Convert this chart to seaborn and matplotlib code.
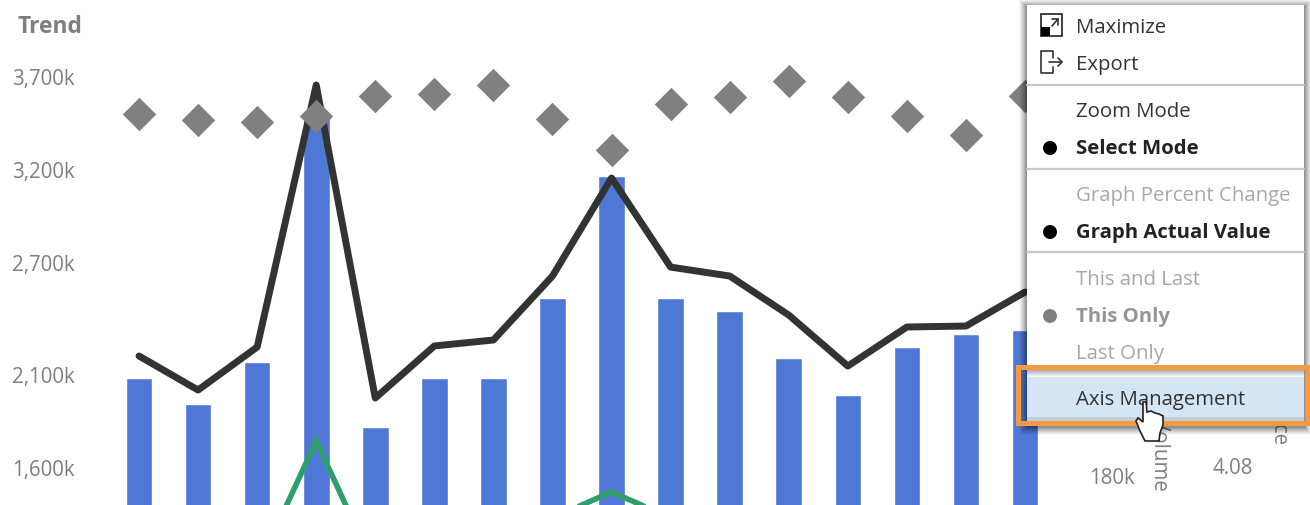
import matplotlib
matplotlib.use("Agg")
import matplotlib.pyplot as plt
from matplotlib.patches import Rectangle, Circle, Polygon
import pandas as pd
import seaborn as sns

periods = list(range(16))
bars = [2082, 1942, 2168, 3500, 1818, 2082, 2082, 2512, 3168, 2512, 2442, 2189, 1990, 2248, 2318, 2340]
line = [2200, 2017, 2248, 3657, 1974, 2254, 2286, 2630, 3157, 2678, 2630, 2420, 2146, 2356, 2361, 2544]
diamonds = [3500, 3468, 3457, 3489, 3597, 3608, 3656, 3473, 3306, 3553, 3591, 3677, 3591, 3489, 3387, 3597]
green = [1050, 1100, 1055, 1743, 1055, 1200, 1250, 1330, 1469, 1330, 1250, 1200, 1100, 1150, 1200, 1150]
yticks = [1600, 2100, 2700, 3200, 3700]
ytick_labels = ["1,600k", "2,100k", "2,700k", "3,200k", "3,700k"]
menu_items = [("Maximize", 28, "normal", "#333333"), ("Export", 65, "normal", "#333333"),
              ("Zoom Mode", 112, "normal", "#333333"), ("Select Mode", 149, "bold", "#222222"),
              ("Graph Percent Change", 196, "normal", "#a8a8a8"), ("Graph Actual Value", 233, "bold", "#222222"),
              ("This and Last", 280, "normal", "#a8a8a8"), ("This Only", 317, "bold", "#969696"),
              ("Last Only", 354, "normal", "#a8a8a8"), ("Axis Management", 400, "normal", "#333333")]

sns.set_theme(style="white")
plt.rcParams["font.family"] = ["Open Sans", "DejaVu Sans"]
GRAY = "#7f7f7f"
FS = 14.8

df = pd.DataFrame({"p": periods, "bars": bars, "line": line, "diamonds": diamonds, "green": green})

fig = plt.figure(figsize=(13.10, 5.05), dpi=100)
ax = fig.add_axes([82 / 1310, 0, 1 - 82 / 1310, 1])
sns.barplot(data=df, x="p", y="bars", native_scale=True, width=0.45, color="#4f78d6",
            saturation=1, ax=ax, zorder=2)
sns.lineplot(data=df, x="p", y="green", color="#2e9e6b", linewidth=4.0, ax=ax, zorder=3,
             solid_joinstyle="miter")
sns.lineplot(data=df, x="p", y="line", color="#333333", linewidth=5.0, ax=ax, zorder=4,
             solid_capstyle="round", solid_joinstyle="round")
sns.scatterplot(data=df, x="p", y="diamonds", marker="D", s=290, color="#808080", linewidth=0,
                ax=ax, zorder=5)
ax.set_xlim((82 - 139) / 59.07, (1310 - 139) / 59.07)
ax.set_ylim(3700 - 428 / 0.186, 3700 + 77 / 0.186)
ax.set_xticks([])
ax.set_yticks(yticks)
ax.set_yticklabels(ytick_labels, fontsize=FS, color=GRAY)
ax.tick_params(axis="y", length=0, pad=5)
ax.set_xlabel("")
ax.set_ylabel("")
sns.despine(ax=ax, left=True, bottom=True)

# overlay in screen pixels for the UI elements
ui = fig.add_axes([0, 0, 1, 1], facecolor="none")
ui.set_xlim(0, 1310)
ui.set_ylim(505, 0)
ui.axis("off")
ui.text(18, 27, "Trend", fontsize=16.4, fontweight="bold", color=GRAY, va="center", ha="left")
ui.text(1112, 478, "180k", fontsize=FS, color=GRAY, va="center", ha="center")
ui.text(1233, 468, "4.08", fontsize=FS, color=GRAY, va="center", ha="center")
ui.text(1159, 491, "Volume", fontsize=FS, color=GRAY, rotation=270, ha="center", va="bottom")
ui.text(1278, 446, "Price", fontsize=FS, color=GRAY, rotation=270, ha="center", va="bottom")

# menu with soft shadow
for i, a in zip(range(8, 0, -1), [.03, .04, .05, .06, .07, .08, .09, .10]):
    ui.add_patch(Rectangle((1027 - i, 5 - i + 2), 277 + 2 * i, 420 + 2 * i, fc="black", ec="none", alpha=a, zorder=10))
ui.add_patch(Rectangle((1027, 5), 277, 420, fc="white", ec="none", zorder=11))
for y in (85, 169, 252):
    ui.plot([1027, 1304], [y, y], color="#c8c8c8", lw=1.6, zorder=12)
# shaded highlighted row
for k, a in enumerate([.34, .30, .26, .22, .17, .12, .08, .04]):
    ui.add_patch(Rectangle((1027, 369 + k), 277, 1.2, fc="black", ec="none", alpha=a, zorder=12))
ui.add_patch(Rectangle((1027, 377), 277, 40, fc="#d4e5f4", ec="none", zorder=12))
ui.add_patch(Rectangle((1027, 417), 277, 4, fc="#c4cdd3", ec="none", zorder=12))
ui.add_patch(Rectangle((1017.5, 366.5), 290.5, 56, fc="none", ec="#f59a42", lw=3.6, zorder=15))

for label, y, weight, color in menu_items:
    ui.text(1076, y, label, fontsize=14.7, fontweight=weight, color=color, va="center", ha="left", zorder=13)
for y, c in ((148, "black"), (232, "black"), (316, "#808080")):
    ui.add_patch(Circle((1050, y), 7, fc=c, ec="none", zorder=13))

# maximize icon
ui.add_patch(Rectangle((1041, 14), 21, 22, fc="white", ec="#333333", lw=1.3, zorder=13))
ui.add_patch(Rectangle((1041, 27), 9, 9, fc="black", ec="none", zorder=14))
ui.plot([1052, 1058, 1058], [19, 19, 25], color="#333333", lw=1.2, zorder=14)
ui.plot([1052, 1058], [26, 19], color="#333333", lw=1.2, zorder=14)
# export icon
ui.plot([1053, 1053, 1041, 1041, 1053, 1053], [58, 51, 51, 73, 73, 67], color="#333333", lw=1.2, zorder=13)
ui.plot([1049, 1062], [62, 62], color="#333333", lw=1.2, zorder=13)
ui.plot([1058, 1062, 1058], [58, 62, 66], color="#333333", lw=1.2, zorder=13)

# hand cursor
hand = Polygon([(1143, 402), (1146, 402), (1147, 412), (1151, 411), (1155, 413), (1159, 414), (1163, 416),
                (1163, 425), (1160, 433), (1159, 441), (1145, 441), (1140, 431), (1136, 421), (1138, 418),
                (1143, 422)], closed=True, fc="white", ec="#222222", lw=1.2, zorder=16)
ui.add_patch(hand)

fig.savefig("out.png", dpi=100)
